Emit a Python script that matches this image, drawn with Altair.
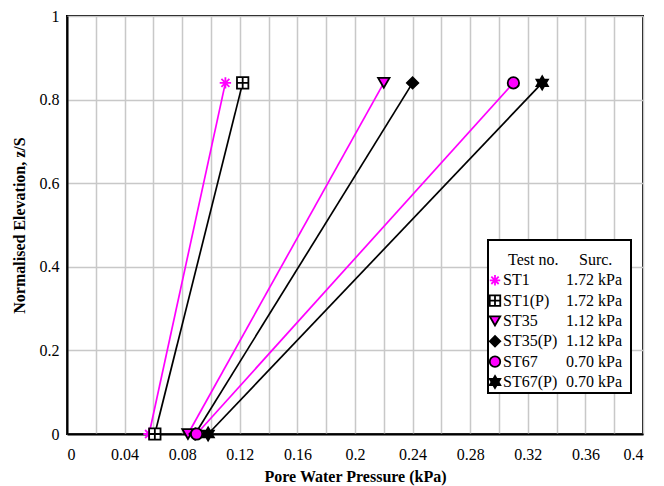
import altair as alt
import pandas as pd

series = ["ST1", "ST1(P)", "ST35", "ST35(P)", "ST67", "ST67(P)"]
surcharge = ["1.72 kPa", "1.72 kPa", "1.12 kPa", "1.12 kPa", "0.70 kPa", "0.70 kPa"]
pwp_bottom = [0.057, 0.061, 0.084, 0.089, 0.090, 0.098]
pwp_top = [0.110, 0.122, 0.220, 0.240, 0.310, 0.330]
elev_bottom = [0, 0, 0, 0, 0, 0]
elev_top = [0.84, 0.84, 0.84, 0.84, 0.84, 0.84]

line_colors = ["#FF00FF", "#000000", "#FF00FF", "#000000", "#FF00FF", "#000000"]
fill_colors = ["#FF00FF", "#FFFFFF", "#FF00FF", "#000000", "#FF00FF", "#000000"]
stroke_colors = ["#FF00FF", "#000000", "#000000", "#000000", "#000000", "#000000"]
shapes = [
    "M0,-1L0,1M-1,0L1,0M-0.7,-0.7L0.7,0.7M-0.7,0.7L0.7,-0.7",
    "M-1,-1H1V1H-1ZM0,-1V1M-1,0H1",
    "triangle-down",
    "diamond",
    "circle",
    "M0,-1.15L1,0.58L-1,0.58ZM0,1.15L-1,-0.58L1,-0.58Z",
]

rows = []
for i, s in enumerate(series):
    rows.append({"series": s, "pwp": pwp_bottom[i], "elev": elev_bottom[i], "order": 0})
    rows.append({"series": s, "pwp": pwp_top[i], "elev": elev_top[i], "order": 1})
df = pd.DataFrame(rows)

legend_df = pd.DataFrame({"series": series, "surc": surcharge, "row": list(range(1, 7))})
title_df = pd.DataFrame({"t1": ["Test no."], "t2": ["Surc."], "row": [0]})

font = "Liberation Serif"
x_vals = [round(i * 0.02, 2) for i in range(21)]

x_enc = alt.X(
    "pwp:Q",
    scale=alt.Scale(domain=[0, 0.4], nice=False),
    axis=alt.Axis(
        values=x_vals,
        labelExpr="round(datum.value*100) % 4 == 0 ? format(datum.value, '~g') : ''",
        title="Pore Water Pressure (kPa)",
        labelFont=font, titleFont=font, labelFontSize=16, titleFontSize=16,
        titleFontWeight="bold", labelPadding=12, titlePadding=6,
    ),
)
y_scale = alt.Scale(domain=[0, 1], nice=False)
y_axis = alt.Y(
    "elev:Q",
    scale=y_scale,
    axis=alt.Axis(values=[0, 0.2, 0.4, 0.6, 0.8, 1], format="~g",
                  title="Normalised Elevation, z/S",
                  labelFont=font, titleFont=font, labelFontSize=16, titleFontSize=16,
                  titleFontWeight="bold", labelPadding=8, titlePadding=12),
)
y_noaxis = alt.Y("elev:Q", scale=y_scale, axis=None)

shape_enc = alt.Shape("series:N", scale=alt.Scale(domain=series, range=shapes), legend=None)
fill_enc = alt.Fill("series:N", scale=alt.Scale(domain=series, range=fill_colors), legend=None)
stroke_enc = alt.Stroke("series:N", scale=alt.Scale(domain=series, range=stroke_colors), legend=None)

lines = alt.Chart(df).mark_line(strokeWidth=1.7).encode(
    x=x_enc,
    y=y_axis,
    order="order:O",
    color=alt.Color("series:N", scale=alt.Scale(domain=series, range=line_colors), legend=None),
)

points = alt.Chart(df).mark_point(filled=True, size=130, strokeWidth=1.8, opacity=1).encode(
    x=x_enc, y=y_noaxis, shape=shape_enc, fill=fill_enc, stroke=stroke_enc,
)

# legend (drawn with marks, placed in the lower right of the plot)
leg_y = alt.Y("row:Q", scale=alt.Scale(domain=[0, 6], range=[244, 366]), axis=None)

leg_box = alt.Chart(pd.DataFrame({"a": [0]})).mark_rect(
    fill="white", stroke="black", strokeWidth=2
).encode(x=alt.value(421), x2=alt.value(564), y=alt.value(224), y2=alt.value(377))

leg_sym = alt.Chart(legend_df).mark_point(filled=True, size=110, strokeWidth=1.8, opacity=1).encode(
    x=alt.value(428), y=leg_y, shape=shape_enc, fill=fill_enc, stroke=stroke_enc,
)
txt = dict(align="left", baseline="middle", font=font, fontSize=16, color="black")
leg_name = alt.Chart(legend_df).mark_text(**txt).encode(x=alt.value(436), y=leg_y, text="series:N")
leg_surc = alt.Chart(legend_df).mark_text(**txt).encode(x=alt.value(499), y=leg_y, text="surc:N")
leg_t1 = alt.Chart(title_df).mark_text(**txt).encode(x=alt.value(441), y=leg_y, text="t1:N")
leg_t2 = alt.Chart(title_df).mark_text(**txt).encode(x=alt.value(512), y=leg_y, text="t2:N")

chart = (
    alt.layer(lines, points, leg_box, leg_sym, leg_name, leg_surc, leg_t1, leg_t2)
    .resolve_scale(y="independent")
    .properties(
        width=576,
        height=418,
        autosize=alt.AutoSizeParams(type="none"),
        padding={"left": 59, "top": 8, "right": 13, "bottom": 52},
    )
    .configure(font=font)
    .configure_view(stroke="black", strokeWidth=2)
    .configure_axis(
        grid=True,
        gridColor="#c8c8c8",
        gridWidth=1.5,
        domainColor="black",
        domainWidth=2,
        ticks=False,
        labelFont=font,
        titleFont=font,
        labelColor="black",
        titleColor="black",
    )
    .configure_axisX(labelFont=font, titleFont=font)
    .configure_axisY(labelFont=font, titleFont=font)
)

chart.save("out.html", embed_options={"renderer": "svg", "actions": False})
